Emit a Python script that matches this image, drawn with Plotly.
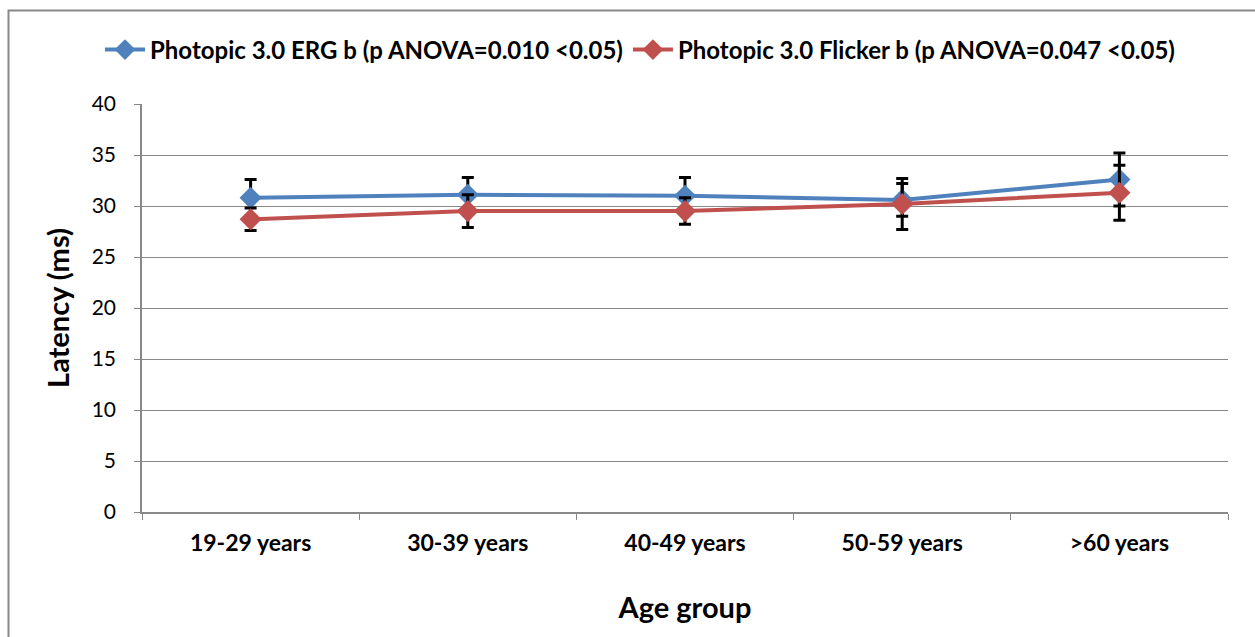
import plotly.graph_objects as go

categories = ["19-29 years", "30-39 years", "40-49 years", "50-59 years", ">60 years"]
erg_b = [30.8, 31.1, 31.0, 30.6, 32.6]
erg_b_err = [1.8, 1.7, 1.8, 1.6, 2.6]
flicker_b = [28.7, 29.5, 29.5, 30.2, 31.3]
flicker_b_err = [1.1, 1.6, 1.3, 2.5, 2.7]
series_names = ["Photopic 3.0 ERG b (p ANOVA=0.010 <0.05)",
                "Photopic 3.0 Flicker b (p ANOVA=0.047 <0.05)"]

FONT = "Lato, 'Open Sans', sans-serif"
W, H = 1255, 637
L, R, T, B = 142, 27, 104, 125
pw, ph = W - L - R, H - T - B

fig = go.Figure()
for name, vals, errs, col in [(series_names[0], erg_b, erg_b_err, "#4F81BD"),
                              (series_names[1], flicker_b, flicker_b_err, "#C0504D")]:
    fig.add_trace(go.Scatter(
        x=categories, y=vals, name=f"<b>{name}</b>", mode="lines+markers",
        line=dict(color=col, width=4),
        marker=dict(symbol="diamond", size=17, color=col),
        error_y=dict(type="data", array=errs, visible=True, color="black",
                     thickness=3, width=6),
    ))

px2x = lambda px: (px - L) / pw
px2y = lambda py: (H - B - py) / ph

fig.update_layout(
    width=W, height=H,
    margin=dict(l=L, r=R, t=T, b=B),
    paper_bgcolor="white", plot_bgcolor="white",
    font=dict(family=FONT, color="black"),
    showlegend=True,
    legend=dict(orientation="h", x=px2x(640), xanchor="center", y=px2y(50), yanchor="middle",
                font=dict(family=FONT, size=24, color="black"), itemwidth=40,
                bgcolor="rgba(0,0,0,0)", tracegroupgap=0),
    xaxis=dict(type="category", range=[-0.5, 4.5], tickson="boundaries", ticks="outside", ticklen=6,
               tickcolor="#888", showline=True, linecolor="#888", linewidth=1.5,
               showgrid=False, tickfont=dict(size=23, family=FONT), ticklabelstandoff=10,
               title=dict(text="<b>Age group</b>", font=dict(size=29, family=FONT), standoff=42)),
    yaxis=dict(range=[0, 40], dtick=5, ticks="outside", ticklen=6, tickcolor="#888",
               showline=True, linecolor="#888", linewidth=1.5,
               showgrid=True, gridcolor="#888", gridwidth=1.2,
               tickfont=dict(size=21, family=FONT), zeroline=False, ticklabelstandoff=14,
               title=dict(text="<b>Latency (ms)</b>", font=dict(size=29, family=FONT), standoff=14)),
)
fig.update_xaxes(tickvals=categories, ticktext=[f"<b>{c}</b>" for c in categories])

fig.add_shape(type="rect", xref="paper", yref="paper",
              x0=px2x(8.5), x1=px2x(1262), y0=px2y(645), y1=px2y(10.5),
              line=dict(color="#888", width=2), fillcolor="rgba(0,0,0,0)", layer="below")

fig.write_html("out.html", config={"displayModeBar": False},
               post_script="document.body.style.margin='0';document.body.style.overflow='hidden';")
